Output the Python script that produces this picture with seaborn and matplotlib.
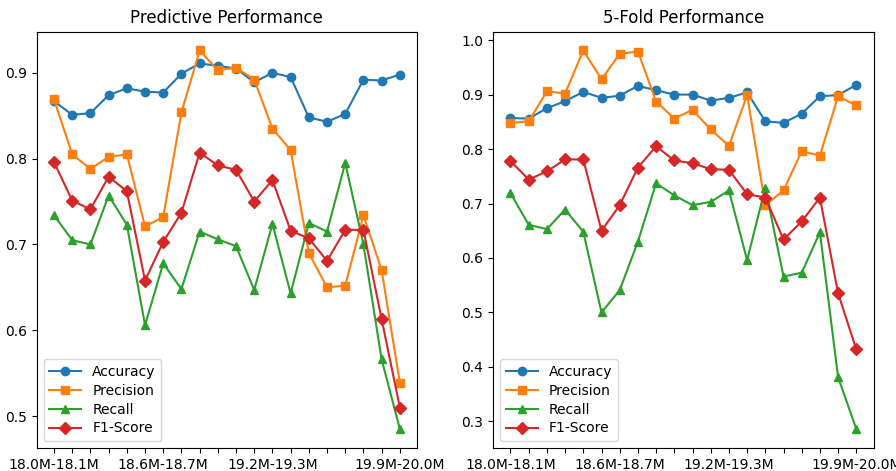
import seaborn as sns
import matplotlib.pyplot as plt
import pandas as pd

periods = [
    "18.0M-18.1M", "18.1M-18.2M", "18.2M-18.3M", "18.3M-18.4M", "18.4M-18.5M",
    "18.5M-18.6M", "18.6M-18.7M", "18.7M-18.8M", "18.8M-18.9M", "18.9M-19.0M",
    "19.0M-19.1M", "19.1M-19.2M", "19.2M-19.3M", "19.3M-19.4M", "19.4M-19.5M",
    "19.5M-19.6M", "19.6M-19.7M", "19.7M-19.8M", "19.8M-19.9M", "19.9M-20.0M",
]
shown_ticks = ["18.0M-18.1M", "18.6M-18.7M", "19.2M-19.3M", "19.9M-20.0M"]

# Predictive performance
pred_accuracy = [0.867, 0.851, 0.853, 0.874, 0.882, 0.878, 0.877, 0.899, 0.911, 0.908,
                 0.905, 0.889, 0.900, 0.895, 0.848, 0.843, 0.852, 0.892, 0.891, 0.898]
pred_precision = [0.869, 0.805, 0.788, 0.802, 0.805, 0.721, 0.732, 0.854, 0.926, 0.903,
                  0.906, 0.892, 0.835, 0.810, 0.690, 0.650, 0.652, 0.734, 0.670, 0.539]
pred_recall = [0.734, 0.705, 0.700, 0.757, 0.723, 0.606, 0.678, 0.648, 0.715, 0.706,
               0.698, 0.647, 0.724, 0.643, 0.725, 0.715, 0.795, 0.700, 0.566, 0.485]
pred_f1 = [0.796, 0.751, 0.741, 0.779, 0.762, 0.658, 0.703, 0.737, 0.807, 0.792,
           0.787, 0.750, 0.775, 0.716, 0.707, 0.681, 0.717, 0.717, 0.613, 0.510]

# 5-fold performance
fold_accuracy = [0.857, 0.856, 0.875, 0.888, 0.905, 0.894, 0.898, 0.916, 0.908, 0.900,
                 0.900, 0.889, 0.894, 0.904, 0.851, 0.848, 0.865, 0.897, 0.899, 0.918]
fold_precision = [0.848, 0.851, 0.906, 0.902, 0.981, 0.928, 0.975, 0.979, 0.887, 0.856,
                  0.872, 0.836, 0.806, 0.899, 0.697, 0.724, 0.796, 0.788, 0.897, 0.880]
fold_recall = [0.719, 0.661, 0.653, 0.689, 0.648, 0.500, 0.541, 0.630, 0.737, 0.715,
               0.697, 0.703, 0.724, 0.596, 0.729, 0.566, 0.573, 0.647, 0.381, 0.286]
fold_f1 = [0.778, 0.744, 0.759, 0.781, 0.781, 0.650, 0.697, 0.766, 0.805, 0.779,
           0.774, 0.763, 0.762, 0.717, 0.711, 0.634, 0.667, 0.711, 0.535, 0.432]

metrics = ["Accuracy", "Precision", "Recall", "F1-Score"]
markers = ["o", "s", "^", "D"]
colors = sns.color_palette("tab10", 4)

panels = [
    ("Predictive Performance", [pred_accuracy, pred_precision, pred_recall, pred_f1]),
    ("5-Fold Performance", [fold_accuracy, fold_precision, fold_recall, fold_f1]),
]

fig, axes = plt.subplots(1, 2, figsize=(8.96, 4.71), dpi=100)

for ax, (title, series) in zip(axes, panels):
    for name, values, marker, color in zip(metrics, series, markers, colors):
        df = pd.DataFrame({"idx": range(len(periods)), "value": values})
        sns.lineplot(x="idx", y="value", data=df, ax=ax, label=name,
                     color=color, marker=marker, markersize=6,
                     markeredgecolor=color, markeredgewidth=1, linewidth=1.5)
    ax.set_xticks(range(len(periods)))
    ax.set_xticklabels([p if p in shown_ticks else "" for p in periods])
    ax.set_xlabel("")
    ax.set_ylabel("")
    ax.set_title(title)
    ax.legend(loc="lower left", labelspacing=0.35, handlelength=2.3)

plt.subplots_adjust(left=0.041, right=0.975, top=0.933, bottom=0.049, wspace=0.2)
plt.savefig("out.png")
